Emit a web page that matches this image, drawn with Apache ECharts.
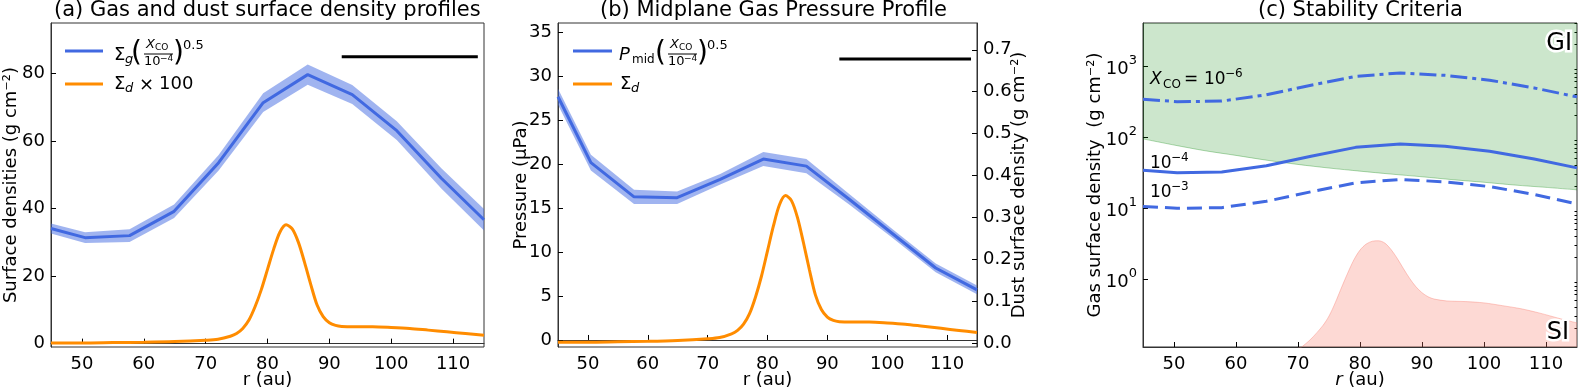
<!DOCTYPE html>
<html>
<head>
<meta charset="utf-8">
<script src="https://cdn.jsdelivr.net/npm/echarts@6/dist/echarts.min.js"></script>
<style>
  html, body { margin: 0; padding: 0; background: #fff; }
  #main { width: 1578px; height: 390px; }
</style>
</head>
<body>
<div id="main"></div>
<script>
// gas profile samples (au)
const rGas = [45, 50.5, 57.7, 64.9, 72.1, 79.3, 86.5, 93.7, 100.9, 108.1, 115];
const sigmaGas = [34.1, 31.4, 32.0, 39.2, 53.6, 71.4, 79.7, 73.8, 63.1, 49.0, 36.7];
const sigmaGasErr = [1.5, 1.6, 1.9, 2.0, 2.3, 2.8, 3.0, 2.8, 2.8, 3.0, 3.2];
const pressure = [27.7, 20.2, 16.3, 16.2, 18.3, 20.6, 19.8, 16.0, 12.1, 8.2, 5.7];
const pressureErr = [0.9, 0.9, 0.8, 0.7, 0.6, 0.8, 0.8, 0.6, 0.5, 0.5, 0.5];

// dust surface density (g cm^-2)
const rDust = [45, 50, 55, 60, 65, 70, 72, 74, 75, 76, 77, 78, 79, 80, 81, 82, 83, 84, 85, 86,
  87, 88, 89, 90, 91, 92, 94, 97, 100, 103, 106, 109, 112, 115];
const sigmaDust = [0.002, 0.002, 0.003, 0.004, 0.006, 0.010, 0.013, 0.022, 0.030, 0.045, 0.070,
  0.110, 0.160, 0.220, 0.280, 0.330, 0.352, 0.340, 0.300, 0.240, 0.175, 0.115, 0.080, 0.062,
  0.054, 0.051, 0.050, 0.050, 0.048, 0.045, 0.040, 0.035, 0.030, 0.025];

// stability panel
const sigmaX3 = [10.5, 9.9, 10.1, 12.4, 16.9, 22.6, 25.2, 23.3, 20.0, 15.5, 11.4];
const sigmaX6 = [340, 314, 320, 392, 536, 714, 797, 738, 631, 490, 367];
const rGI = [45, 50, 55, 60, 65, 70, 75, 80, 85, 90, 95, 100, 105, 110, 115];
const giLimit = [94, 77, 64, 55, 47, 41, 36.5, 33, 30, 27.5, 25, 23, 21, 19.5, 18];
const rSI = [70, 72, 74, 75, 76, 77, 78, 79, 80, 81, 82, 83, 84, 85, 86, 87, 88, 89, 90, 91,
  92, 94, 97, 100, 103, 106, 109, 112, 115];
const siLimit = [0.10, 0.14, 0.22, 0.30, 0.46, 0.75, 1.2, 1.85, 2.55, 3.1, 3.4, 3.45, 3.2, 2.6,
  1.95, 1.4, 1.02, 0.78, 0.64, 0.56, 0.52, 0.49, 0.48, 0.46, 0.42, 0.38, 0.33, 0.28, 0.24];

// black bars
const barR = [92, 114];
const barA = 85;
const barB = 32;

// ticks
const rTicks = [50, 60, 70, 80, 90, 100, 110];
const densTicks = [0, 20, 40, 60, 80];
const pressTicks = [0, 5, 10, 15, 20, 25, 30, 35];
const dustTicks = [0, 0.1, 0.2, 0.3, 0.4, 0.5, 0.6, 0.7];
const logTicks = [1, 10, 100, 1000];
const logMinor = [];
[0.1, 1, 10, 100, 1000].forEach(d => {
  for (let k = 2; k <= 9; k++) if (d * k <= 4000) logMinor.push(d * k);
});

const FONT = 'DejaVu Sans';
const BLUE = '#4169e1';
const ORANGE = '#ff8c00';
const SPINE = '#333';

const zip = (xs, ys) => xs.map((x, i) => [x, ys[i]]);

function rAxis(gridIndex, max, nameText) {
  return {
    type: 'value', gridIndex: gridIndex, min: 45, max: max,
    name: nameText, nameLocation: 'middle', nameGap: 24, nameMoveOverlap: false,
    nameTextStyle: { fontSize: 18, color: '#000', fontFamily: FONT,
      rich: { i: { fontSize: 18, fontStyle: 'italic', fontFamily: FONT, color: '#000' } } },
    axisLine: { show: true, lineStyle: { color: SPINE, width: 1 } },
    axisTick: { inside: true, length: 5, lineStyle: { color: '#000' }, customValues: rTicks },
    axisLabel: { fontSize: 18, color: '#000', fontFamily: FONT, margin: 8, customValues: rTicks },
    splitLine: { show: false }
  };
}

function valAxis(gridIndex, min, max, ticks, nameText, gap, pos, fmt) {
  return {
    type: 'value', gridIndex: gridIndex, min: min, max: max, position: pos || 'left',
    name: nameText, nameLocation: 'middle', nameGap: gap, nameRotate: 90, nameMoveOverlap: false,
    nameTextStyle: { fontSize: 18, color: '#000', fontFamily: FONT },
    axisLine: { show: true, lineStyle: { color: SPINE, width: 1 } },
    axisTick: { inside: true, length: 5, lineStyle: { color: '#000' }, customValues: ticks },
    axisLabel: { fontSize: 18, color: '#000', fontFamily: FONT, margin: 6, customValues: ticks,
      formatter: fmt },
    splitLine: { show: false }
  };
}

function band(xi, yi, xs, mid, err, color) {
  return {
    type: 'custom', xAxisIndex: xi, yAxisIndex: yi, silent: true, z: 1, clip: true,
    data: xs.map((x, i) => [x, mid[i] - err[i], mid[i] + err[i]]),
    encode: { x: 0, y: [1, 2] },
    renderItem: function (params, api) {
      if (params.dataIndex !== 0) return;
      const pts = [];
      for (let i = 0; i < xs.length; i++) pts.push(api.coord([xs[i], mid[i] + err[i]]));
      for (let i = xs.length - 1; i >= 0; i--) pts.push(api.coord([xs[i], mid[i] - err[i]]));
      return { type: 'polygon', shape: { points: pts }, style: { fill: color } };
    }
  };
}

function line(xi, yi, data, color, extra) {
  return Object.assign({
    type: 'line', xAxisIndex: xi, yAxisIndex: yi, data: data, symbol: 'none', z: 3,
    clip: true, silent: true,
    lineStyle: { color: color, width: 3 }
  }, extra || {});
}

// text pieces for titles, legends and labels
function t(x, y, text, size, extra) {
  return {
    type: 'text', x: x, y: y, z: 50, silent: true,
    style: Object.assign({
      text: text, fontSize: size, fontFamily: FONT, fill: '#000',
      align: 'left', verticalAlign: 'middle'
    }, extra || {})
  };
}
function seg(x1, x2, y, color, w) {
  return { type: 'line', z: 50, silent: true, shape: { x1: x1, y1: y, x2: x2, y2: y },
    style: { stroke: color, lineWidth: w } };
}
const it = { fontStyle: 'italic' };

// fraction (X_CO / 10^-4) with big parentheses, starting at x0
function frac(x0) {
  return [
    t(x0, 54, '(', 28),
    t(x0 + 15, 45, 'X', 13, it), t(x0 + 24, 48, 'CO', 9),
    seg(x0 + 13, x0 + 42, 54, '#000', 1),
    t(x0 + 13, 62, '10', 13), t(x0 + 29, 59, '\u22124', 9),
    t(x0 + 42, 54, ')', 28),
    t(x0 + 52, 46, '0.5', 13)
  ];
}

const graphics = [].concat(
  // titles (left edges as in the figure)
  [t(54, 11, '(a) Gas and dust surface density profiles', 21),
    t(600, 11, '(b) Midplane Gas Pressure Profile', 21),
    t(1258, 11, '(c) Stability Criteria', 21)],
  // legend (a)
  [seg(65, 103, 51, BLUE, 3), t(114, 55, '\u03A3', 18), t(125, 60, 'g', 13, it)],
  frac(131),
  [seg(65, 103, 84, ORANGE, 3), t(114, 84, '\u03A3', 18), t(125, 89, 'd', 13, it),
    t(139, 85, '\u00D7', 18), t(159, 84, '100', 18)],
  // legend (b)
  [seg(573, 612, 51, BLUE, 3), t(619, 55, 'P', 18, it), t(632, 60, 'mid', 12)],
  frac(655),
  [seg(573, 612, 84, ORANGE, 3), t(620, 84, '\u03A3', 18), t(631, 89, 'd', 13, it)],
  // annotations (c)
  [t(1150, 80, 'X', 17, it), t(1163, 85, 'CO', 12), t(1184, 80, '=', 17), t(1204, 80, '10', 17),
    t(1225, 74, '\u22126', 12),
    t(1150, 164, '10', 17), t(1171, 158, '\u22124', 12),
    t(1150, 193, '10', 17), t(1171, 187, '\u22123', 12),
    t(1572, 44, 'GI', 24, { align: 'right', stroke: '#fff', lineWidth: 5 }),
    t(1569, 333, 'SI', 24, { align: 'right', stroke: '#fff', lineWidth: 5 })]
);

const gridBase = { top: 23, height: 324, show: true, borderColor: SPINE, borderWidth: 1,
  backgroundColor: 'transparent', outerBoundsMode: 'none', containLabel: false };

const option = {
  animation: false,
  backgroundColor: '#fff',
  grid: [
    Object.assign({ left: 51, width: 433 }, gridBase),
    Object.assign({ left: 558, width: 419 }, gridBase),
    Object.assign({ left: 1143, width: 434 }, gridBase)
  ],
  xAxis: [
    rAxis(0, 115, 'r (au)'),
    rAxis(1, 115, 'r (au)'),
    rAxis(2, 115, '{i|r} (au)')
  ],
  yAxis: [
    valAxis(0, -1, 95, densTicks, 'Surface densities (g cm\u207B\u00B2)', 31),
    valAxis(1, -0.8, 36.1, pressTicks, 'Pressure (\u03BCPa)', 28),
    valAxis(1, -0.0095, 0.764, dustTicks, 'Dust surface density (g cm\u207B\u00B2)', 33, 'right',
      v => v.toFixed(1)),
    {
      type: 'log', gridIndex: 2, min: 0.11, max: 4030, logBase: 10,
      name: 'Gas surface density  (g cm\u207B\u00B2)', nameLocation: 'middle', nameGap: 39,
      nameRotate: 90, nameMoveOverlap: false,
      nameTextStyle: { fontSize: 18, color: '#000', fontFamily: FONT },
      axisLine: { show: true, lineStyle: { color: SPINE, width: 1 } },
      axisTick: { inside: true, length: 5, lineStyle: { color: '#000' }, customValues: logTicks },
      axisLabel: {
        margin: 6, customValues: logTicks,
        formatter: v => '{b|10}{s|' + Math.round(Math.log10(v)) + '}',
        rich: {
          b: { fontSize: 18, fontFamily: FONT, color: '#000', lineHeight: 24, verticalAlign: 'bottom' },
          s: { fontSize: 13, fontFamily: FONT, color: '#000', lineHeight: 14, verticalAlign: 'top' }
        }
      },
      splitLine: { show: false }
    },
    {
      type: 'log', gridIndex: 2, min: 0.11, max: 4030, logBase: 10,
      axisLine: { show: false },
      axisTick: { inside: true, length: 2.5, lineStyle: { color: '#000' }, customValues: logMinor },
      axisLabel: { show: false },
      splitLine: { show: false }
    }
  ],
  graphic: graphics,
  series: [
    // (a)
    band(0, 0, rGas, sigmaGas, sigmaGasErr, 'rgba(65,105,225,0.5)'),
    line(0, 0, zip(rGas, sigmaGas), BLUE),
    line(0, 0, zip(rDust, sigmaDust.map(v => v * 100)), ORANGE, { smooth: 0.3 }),
    line(0, 0, barR.map(x => [x, barA]), '#000'),
    // (b)
    band(1, 1, rGas, pressure, pressureErr, 'rgba(65,105,225,0.5)'),
    line(1, 1, zip(rGas, pressure), BLUE),
    line(1, 2, zip(rDust, sigmaDust), ORANGE, { smooth: 0.3 }),
    line(1, 1, barR.map(x => [x, barB]), '#000'),
    // (c)
    line(2, 3, zip(rGI, giLimit), 'rgba(0,128,0,0.3)', {
      z: 1, smooth: 0.3, lineStyle: { color: 'rgba(0,128,0,0.3)', width: 1 },
      areaStyle: { color: 'rgba(0,128,0,0.2)', opacity: 1, origin: 4030 }
    }),
    line(2, 3, zip(rSI, siLimit), 'rgba(250,128,114,0.4)', {
      z: 1, smooth: 0.3, lineStyle: { color: 'rgba(250,128,114,0.4)', width: 1 },
      areaStyle: { color: 'rgba(250,128,114,0.3)', opacity: 1, origin: 0.11 }
    }),
    line(2, 3, zip(rGas, sigmaX6), BLUE, { lineStyle: { color: BLUE, width: 3, type: [17, 5, 4, 5] } }),
    line(2, 3, zip(rGas, sigmaGas), BLUE),
    line(2, 3, zip(rGas, sigmaX3), BLUE, { lineStyle: { color: BLUE, width: 3, type: [15, 7] } })
  ]
};

const chart = echarts.init(document.getElementById('main'));
chart.setOption(option);
</script>
</body>
</html>
